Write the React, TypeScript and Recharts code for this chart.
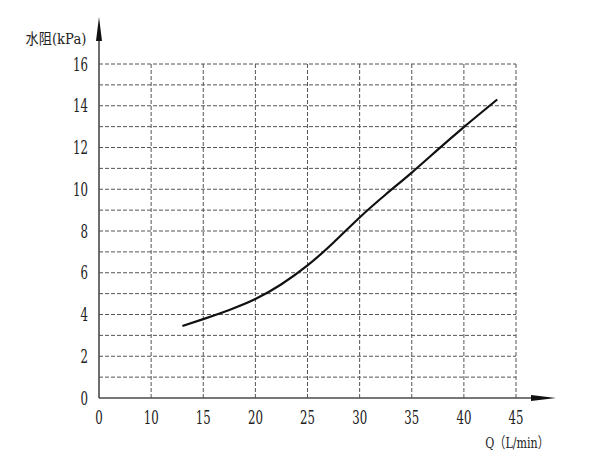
import React from 'react';
import { LineChart, Line, XAxis, YAxis, ReferenceLine } from 'recharts';

// flow (L/min)
const flow = [13, 15, 17.5, 20, 22.5, 25, 27.5, 30, 32.5, 35, 37.5, 40, 43.2];
// water resistance (kPa)
const resistance = [3.45, 3.78, 4.22, 4.74, 5.45, 6.35, 7.45, 8.65, 9.75, 10.8, 11.9, 12.98, 14.3];

// the x axis is broken: the origin is labelled 0 but sits one step before 10
const xTicks = [5, 10, 15, 20, 25, 30, 35, 40, 45];
const xTickLabels = ['0', '10', '15', '20', '25', '30', '35', '40', '45'];
const yTicks = [0, 2, 4, 6, 8, 10, 12, 14, 16];
const gridX = [10, 15, 20, 25, 30, 35, 40, 45];
const gridY = [1, 2, 3, 4, 5, 6, 7, 8, 9, 10, 11, 12, 13, 14, 15, 16];

const data = flow.map((q, i) => ({ q, r: resistance[i] }));

const FONT = 'DejaVu Serif, Noto Sans CJK SC';
const AXIS = '#4a4a4a';
const GRID = '#555';

const XTick = (props: any) => {
  const { x, y, payload } = props;
  const label = xTickLabels[xTicks.indexOf(payload.value)];
  return (
    <text
      transform={`translate(${x},${y}) scale(0.62,1)`}
      textAnchor="middle"
      dominantBaseline="central"
      fontSize={19}
      fontFamily={FONT}
      fill="#222"
    >
      {label}
    </text>
  );
};

const YTick = (props: any) => {
  const { x, y, payload } = props;
  return (
    <text
      transform={`translate(${x},${y}) scale(0.62,1)`}
      textAnchor="end"
      dominantBaseline="central"
      fontSize={19}
      fontFamily={FONT}
      fill="#222"
    >
      {payload.value}
    </text>
  );
};

const XArrow = (props: any) => {
  const { x1, y1, x2 } = props;
  const tip = x2 + 40;
  return (
    <g>
      <line x1={x1} y1={y1} x2={tip - 12} y2={y1} stroke={AXIS} strokeWidth={1.6} />
      <polygon points={`${tip},${y1} ${tip - 25},${y1 - 3} ${tip - 25},${y1 + 3}`} fill="#111" />
      <text
        transform={`translate(${x2 + 1},${y1 + 50}) scale(0.74,1)`}
        textAnchor="middle"
        fontSize={15}
        fontFamily={FONT}
        fill="#222"
      >
        Q（L/min）
      </text>
    </g>
  );
};

const YArrow = (props: any) => {
  const { x1, y1, y2 } = props;
  const top = Math.min(y1, y2);
  const bottom = Math.max(y1, y2);
  const tip = top - 47;
  return (
    <g>
      <line x1={x1} y1={bottom} x2={x1} y2={tip + 12} stroke={AXIS} strokeWidth={1.6} />
      <polygon points={`${x1},${tip} ${x1 - 3},${tip + 24} ${x1 + 3},${tip + 24}`} fill="#111" />
      <text
        transform={`translate(${x1 - 43},${top - 20}) scale(0.88,1)`}
        textAnchor="middle"
        fontSize={15}
        fontFamily={FONT}
        fill="#222"
      >
        水阻(kPa)
      </text>
    </g>
  );
};

export default function App() {
  return (
    <div style={{ position: 'absolute', left: 0, top: 0, background: '#fff' }}>
      <LineChart
        width={589}
        height={450}
        data={data}
        margin={{ top: 64, right: 73, bottom: 22, left: 39 }}
      >
        <XAxis
          type="number"
          dataKey="q"
          domain={[5, 45]}
          ticks={xTicks}
          allowDataOverflow
          axisLine={false}
          tickLine={false}
          tickSize={0}
          tickMargin={19}
          height={30}
          tick={<XTick />}
          interval={0}
        />
        <YAxis
          type="number"
          domain={[0, 16]}
          ticks={yTicks}
          axisLine={false}
          tickLine={false}
          tickSize={0}
          tickMargin={11}
          width={60}
          tick={<YTick />}
          interval={0}
        />
        {gridY.map((v) => (
          <ReferenceLine key={`h${v}`} y={v} stroke={GRID} strokeWidth={1} strokeDasharray="4 2" />
        ))}
        {gridX.map((v) => (
          <ReferenceLine key={`v${v}`} x={v} stroke={GRID} strokeWidth={1} strokeDasharray="4 2" />
        ))}
        <ReferenceLine y={0} shape={<XArrow />} />
        <ReferenceLine x={5} shape={<YArrow />} />
        <Line
          type="natural"
          dataKey="r"
          stroke="#111"
          strokeWidth={2.2}
          dot={false}
          isAnimationActive={false}
        />
      </LineChart>
    </div>
  );
}
